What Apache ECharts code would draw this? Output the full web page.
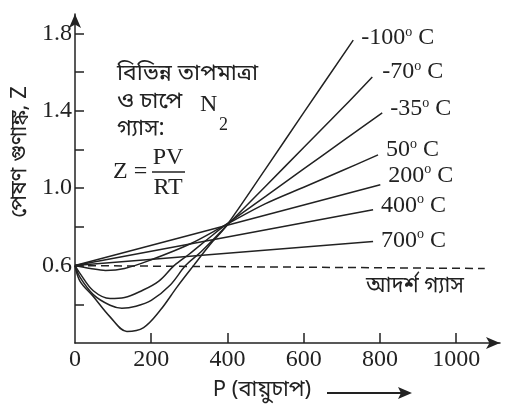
<html lang="bn">
<head>
<meta charset="utf-8">
<title>পেষণ গুণাঙ্ক</title>
<script src="https://cdn.jsdelivr.net/npm/echarts@6/dist/echarts.min.js"></script>
<style>
  html, body { margin: 0; padding: 0; background: #fff; }
  #chart { width: 507px; height: 412px; }
</style>
</head>
<body>
<div id="chart"></div>
<script>
// P (atm), Z pairs
var tM100 = [[0,0.6],[13,0.52],[48,0.44],[92,0.335],[136,0.26],[180,0.28],[224,0.37],[268,0.49],[311,0.6],[355,0.71],[395,0.8],[500,1.1],[600,1.39],[730,1.765]];
var tM70 = [[0,0.6],[13,0.54],[48,0.45],[92,0.395],[123,0.38],[160,0.39],[200,0.42],[250,0.5],[290,0.6],[330,0.67],[395,0.8],[500,1.01],[600,1.21],[700,1.41],[780,1.575]];
var tM35 = [[0,0.6],[13,0.56],[48,0.47],[92,0.43],[130,0.435],[175,0.47],[220,0.52],[260,0.6],[300,0.66],[350,0.74],[395,0.81],[500,0.958],[600,1.1],[700,1.24],[806,1.389]];
var t50 = [[0,0.6],[40,0.585],[80,0.575],[130,0.585],[200,0.63],[300,0.71],[395,0.81],[500,0.92],[600,1.005],[700,1.09],[795,1.172]];
var t200 = [[0,0.6],[801,1.018]];
var t400 = [[0,0.6],[782,0.889]];
var t700 = [[0,0.6],[782,0.724]];
var ideal = [[0,0.6],[1075,0.585]];

var tempNames = ['-100', '-70', '-35', '50', '200', '400', '700'];
var tempData = [tM100, tM70, tM35, t50, t200, t400, t700];
var labelOffsets = [[0,-2],[2,-5],[0,-4],[0,-5],[0,-9],[0,-4],[0,-1]];

var xLabels = [0, 200, 400, 600, 800, 1000];
var xTicks = [200, 400, 600, 800, 1000];
var yLabels = [0.6, 1.0, 1.4, 1.8];
var yTicks = [0.4, 0.6, 0.8, 1.0, 1.2, 1.4, 1.6, 1.8];

var serif = '"Liberation Serif", "DejaVu Serif", serif';
var bn = '"Noto Sans Bengali", "Noto Serif Bengali", "Lohit Bengali", "Noto Sans", sans-serif';
var ink = '#222';

var chart = echarts.init(document.getElementById('chart'), null, { renderer: 'canvas' });

var series = tempData.map(function (d, i) {
  return {
    type: 'line',
    name: tempNames[i],
    data: d,
    smooth: d.length > 2 ? 0.35 : false,
    symbol: 'none',
    lineStyle: { color: ink, width: 1.5 },
    emphasis: { disabled: true },
    endLabel: {
      show: true,
      distance: 8,
      offset: labelOffsets[i],
      formatter: function (p) { return '{t|' + p.seriesName + '}{s|o}{t| C}'; },
      rich: {
        t: { fontFamily: serif, fontSize: 24, color: ink, lineHeight: 26 },
        s: { fontFamily: serif, fontSize: 14, color: ink, verticalAlign: 'top', lineHeight: 26 }
      }
    }
  };
});
series.push({
  type: 'line',
  data: ideal,
  symbol: 'none',
  lineStyle: { color: ink, width: 1.5, type: [8, 5] },
  emphasis: { disabled: true }
});

chart.setOption({
  animation: false,
  backgroundColor: '#fff',
  grid: { left: 75, right: 7, top: 14, bottom: 69 },
  xAxis: {
    type: 'value',
    min: 0,
    max: 1115,
    splitLine: { show: false },
    axisLine: { lineStyle: { color: ink, width: 1.5 }, symbol: ['none', 'arrow'], symbolSize: [9, 14] },
    axisTick: { inside: true, length: 10, customValues: xTicks, lineStyle: { color: ink, width: 1.5 } },
    axisLabel: {
      customValues: xLabels, fontFamily: serif, fontSize: 24, color: ink, margin: 5,
      formatter: function (v) { return String(v); }
    }
  },
  yAxis: {
    type: 'value',
    min: 0.2,
    max: 1.9,
    splitLine: { show: false },
    axisLine: { lineStyle: { color: ink, width: 1.5 }, symbol: ['none', 'arrow'], symbolSize: [9, 14] },
    axisTick: { inside: true, length: 9, customValues: yTicks, lineStyle: { color: ink, width: 1.5 } },
    axisLabel: {
      customValues: yLabels, fontFamily: serif, fontSize: 24, color: ink, margin: 3,
      formatter: function (v) { return v.toFixed(1); }
    }
  },
  series: series,
  graphic: [
    { type: 'text', x: 22, y: 152, rotation: Math.PI / 2,
      style: { text: 'পেষণ গুণাঙ্ক, Z', font: '22px ' + bn, fill: ink, align: 'center', verticalAlign: 'middle' } },
    { type: 'text', x: 117, y: 76,
      style: { text: 'বিভিন্ন তাপমাত্রা', font: '23px ' + bn, fill: ink, verticalAlign: 'middle' } },
    { type: 'text', x: 117, y: 104,
      style: { text: 'ও চাপে', font: '23px ' + bn, fill: ink, verticalAlign: 'middle' } },
    { type: 'text', x: 200, y: 105,
      style: { text: 'N', font: '24px ' + serif, fill: ink, verticalAlign: 'middle' } },
    { type: 'text', x: 219, y: 125,
      style: { text: '2', font: '18px ' + serif, fill: ink, verticalAlign: 'middle' } },
    { type: 'text', x: 117, y: 131,
      style: { text: 'গ্যাস:', font: '23px ' + bn, fill: ink, verticalAlign: 'middle' } },
    { type: 'text', x: 113, y: 172,
      style: { text: 'Z =', font: '24px ' + serif, fill: ink, verticalAlign: 'middle' } },
    { type: 'text', x: 168, y: 158,
      style: { text: 'PV', font: '24px ' + serif, fill: ink, align: 'center', verticalAlign: 'middle' } },
    { type: 'line', shape: { x1: 152, y1: 172, x2: 185, y2: 172 }, style: { stroke: ink, lineWidth: 1.5 } },
    { type: 'text', x: 168, y: 188,
      style: { text: 'RT', font: '24px ' + serif, fill: ink, align: 'center', verticalAlign: 'middle' } },
    { type: 'text', x: 415, y: 288,
      style: { text: 'আদর্শ গ্যাস', font: '22px ' + bn, fill: ink, align: 'center', verticalAlign: 'middle' } },
    { type: 'text', x: 262, y: 392,
      style: { text: 'P (বায়ুচাপ)', font: '22px ' + bn, fill: ink, align: 'center', verticalAlign: 'middle' } },
    { type: 'line', shape: { x1: 327, y1: 393, x2: 402, y2: 393 }, style: { stroke: ink, lineWidth: 2 } },
    { type: 'polygon', shape: { points: [[412, 393], [398, 387], [401, 393], [398, 399]] }, style: { fill: ink } }
  ]
});
</script>
</body>
</html>
